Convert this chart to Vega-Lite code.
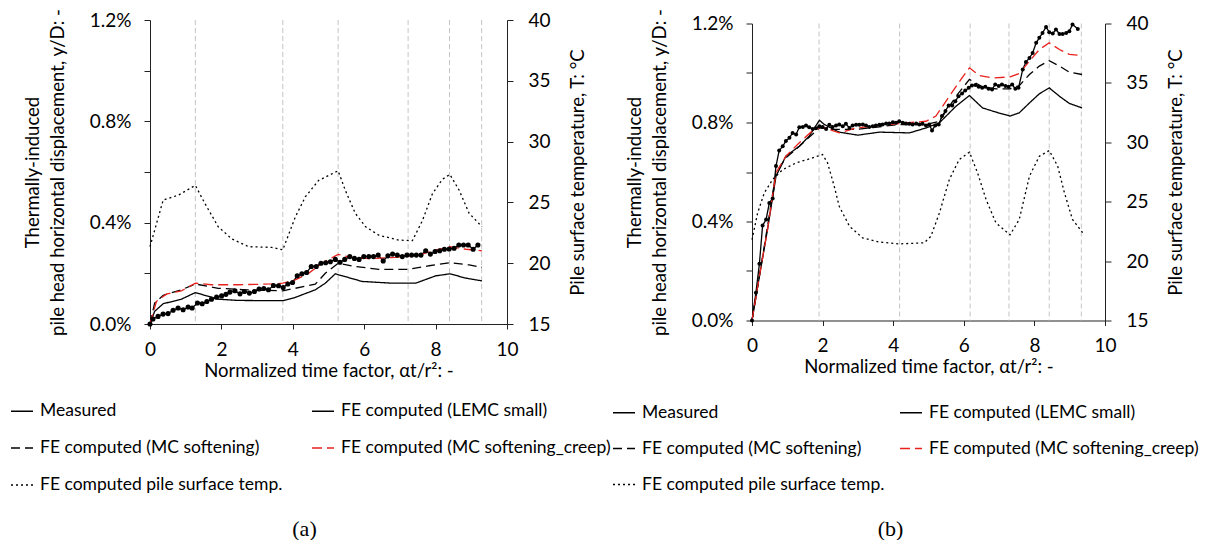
{
  "$schema": "https://vega.github.io/schema/vega-lite/v6.json",
  "background": "white",
  "padding": {"left": 10, "top": 8, "right": 4, "bottom": 0},
  "config": {
    "font": "Lato",
    "view": {"stroke": null},
    "axis": {"domainColor": "#222", "tickColor": "#222", "labelColor": "#000", "titleColor": "#000", "labelFont": "Lato", "titleFont": "Lato", "labelFontSize": 19, "titleFontSize": 18.5, "titleFontWeight": "normal", "grid": false, "tickSize": 6, "domainWidth": 1, "tickWidth": 1}
  },
  "datasets": {
    "va": [{"x": 1.27}, {"x": 3.72}, {"x": 5.27}, {"x": 7.23}, {"x": 8.39}, {"x": 9.29}],
    "vb": [{"x": 1.9}, {"x": 4.18}, {"x": 6.18}, {"x": 7.28}, {"x": 8.42}, {"x": 9.33}],
    "a": [
      {"s": "Measured", "x": 0, "d": 0}, {"s": "Measured", "x": 0.084, "d": 0.02}, {"s": "Measured", "x": 0.225, "d": 0.03}, {"s": "Measured", "x": 0.366, "d": 0.039}, {"s": "Measured", "x": 0.506, "d": 0.041}, {"s": "Measured", "x": 0.647, "d": 0.054}, {"s": "Measured", "x": 0.787, "d": 0.063}, {"s": "Measured", "x": 0.928, "d": 0.056}, {"s": "Measured", "x": 1.068, "d": 0.067}, {"s": "Measured", "x": 1.181, "d": 0.063}, {"s": "Measured", "x": 1.331, "d": 0.083}, {"s": "Measured", "x": 1.462, "d": 0.08}, {"s": "Measured", "x": 1.593, "d": 0.089}, {"s": "Measured", "x": 1.724, "d": 0.098}, {"s": "Measured", "x": 1.865, "d": 0.106}, {"s": "Measured", "x": 2.006, "d": 0.111}, {"s": "Measured", "x": 2.127, "d": 0.117}, {"s": "Measured", "x": 2.24, "d": 0.126}, {"s": "Measured", "x": 2.38, "d": 0.131}, {"s": "Measured", "x": 2.521, "d": 0.119}, {"s": "Measured", "x": 2.643, "d": 0.128}, {"s": "Measured", "x": 2.783, "d": 0.122}, {"s": "Measured", "x": 2.924, "d": 0.128}, {"s": "Measured", "x": 3.055, "d": 0.138}, {"s": "Measured", "x": 3.187, "d": 0.14}, {"s": "Measured", "x": 3.318, "d": 0.135}, {"s": "Measured", "x": 3.458, "d": 0.152}, {"s": "Measured", "x": 3.599, "d": 0.151}, {"s": "Measured", "x": 3.73, "d": 0.144}, {"s": "Measured", "x": 3.861, "d": 0.158}, {"s": "Measured", "x": 3.993, "d": 0.164}, {"s": "Measured", "x": 4.124, "d": 0.19}, {"s": "Measured", "x": 4.255, "d": 0.198}, {"s": "Measured", "x": 4.386, "d": 0.203}, {"s": "Measured", "x": 4.517, "d": 0.227}, {"s": "Measured", "x": 4.658, "d": 0.227}, {"s": "Measured", "x": 4.789, "d": 0.24}, {"s": "Measured", "x": 4.92, "d": 0.242}, {"s": "Measured", "x": 5.052, "d": 0.246}, {"s": "Measured", "x": 5.192, "d": 0.255}, {"s": "Measured", "x": 5.323, "d": 0.244}, {"s": "Measured", "x": 5.455, "d": 0.255}, {"s": "Measured", "x": 5.595, "d": 0.266}, {"s": "Measured", "x": 5.726, "d": 0.259}, {"s": "Measured", "x": 5.857, "d": 0.255}, {"s": "Measured", "x": 5.989, "d": 0.266}, {"s": "Measured", "x": 6.129, "d": 0.266}, {"s": "Measured", "x": 6.26, "d": 0.266}, {"s": "Measured", "x": 6.392, "d": 0.272}, {"s": "Measured", "x": 6.532, "d": 0.249}, {"s": "Measured", "x": 6.664, "d": 0.269}, {"s": "Measured", "x": 6.795, "d": 0.276}, {"s": "Measured", "x": 6.926, "d": 0.272}, {"s": "Measured", "x": 7.067, "d": 0.266}, {"s": "Measured", "x": 7.198, "d": 0.272}, {"s": "Measured", "x": 7.329, "d": 0.272}, {"s": "Measured", "x": 7.46, "d": 0.272}, {"s": "Measured", "x": 7.591, "d": 0.272}, {"s": "Measured", "x": 7.723, "d": 0.289}, {"s": "Measured", "x": 7.854, "d": 0.276}, {"s": "Measured", "x": 7.985, "d": 0.286}, {"s": "Measured", "x": 8.116, "d": 0.289}, {"s": "Measured", "x": 8.247, "d": 0.295}, {"s": "Measured", "x": 8.379, "d": 0.296}, {"s": "Measured", "x": 8.519, "d": 0.299}, {"s": "Measured", "x": 8.65, "d": 0.312}, {"s": "Measured", "x": 8.782, "d": 0.312}, {"s": "Measured", "x": 8.913, "d": 0.312}, {"s": "Measured", "x": 9.053, "d": 0.295}, {"s": "Measured", "x": 9.185, "d": 0.312},
      {"s": "FE computed (LEMC small)", "x": 0, "d": 0}, {"s": "FE computed (LEMC small)", "x": 0.13, "d": 0.05}, {"s": "FE computed (LEMC small)", "x": 0.37, "d": 0.08}, {"s": "FE computed (LEMC small)", "x": 0.88, "d": 0.098}, {"s": "FE computed (LEMC small)", "x": 1.27, "d": 0.124}, {"s": "FE computed (LEMC small)", "x": 1.91, "d": 0.098}, {"s": "FE computed (LEMC small)", "x": 2.47, "d": 0.093}, {"s": "FE computed (LEMC small)", "x": 3.72, "d": 0.092}, {"s": "FE computed (LEMC small)", "x": 4.07, "d": 0.105}, {"s": "FE computed (LEMC small)", "x": 4.63, "d": 0.135}, {"s": "FE computed (LEMC small)", "x": 4.91, "d": 0.161}, {"s": "FE computed (LEMC small)", "x": 5.19, "d": 0.198}, {"s": "FE computed (LEMC small)", "x": 5.47, "d": 0.187}, {"s": "FE computed (LEMC small)", "x": 5.94, "d": 0.168}, {"s": "FE computed (LEMC small)", "x": 6.79, "d": 0.161}, {"s": "FE computed (LEMC small)", "x": 7.44, "d": 0.161}, {"s": "FE computed (LEMC small)", "x": 8.0, "d": 0.19}, {"s": "FE computed (LEMC small)", "x": 8.4, "d": 0.198}, {"s": "FE computed (LEMC small)", "x": 8.85, "d": 0.181}, {"s": "FE computed (LEMC small)", "x": 9.3, "d": 0.17},
      {"s": "FE computed (MC softening)", "x": 0, "d": 0}, {"s": "FE computed (MC softening)", "x": 0.13, "d": 0.083}, {"s": "FE computed (MC softening)", "x": 0.37, "d": 0.113}, {"s": "FE computed (MC softening)", "x": 0.88, "d": 0.135}, {"s": "FE computed (MC softening)", "x": 1.27, "d": 0.158}, {"s": "FE computed (MC softening)", "x": 1.91, "d": 0.141}, {"s": "FE computed (MC softening)", "x": 2.66, "d": 0.135}, {"s": "FE computed (MC softening)", "x": 3.72, "d": 0.131}, {"s": "FE computed (MC softening)", "x": 4.63, "d": 0.157}, {"s": "FE computed (MC softening)", "x": 4.91, "d": 0.2}, {"s": "FE computed (MC softening)", "x": 5.27, "d": 0.24}, {"s": "FE computed (MC softening)", "x": 5.75, "d": 0.227}, {"s": "FE computed (MC softening)", "x": 6.41, "d": 0.216}, {"s": "FE computed (MC softening)", "x": 7.25, "d": 0.216}, {"s": "FE computed (MC softening)", "x": 7.82, "d": 0.23}, {"s": "FE computed (MC softening)", "x": 8.4, "d": 0.242}, {"s": "FE computed (MC softening)", "x": 8.94, "d": 0.233}, {"s": "FE computed (MC softening)", "x": 9.3, "d": 0.224},
      {"s": "FE computed (MC softening_creep)", "x": 0, "d": 0}, {"s": "FE computed (MC softening_creep)", "x": 0.18, "d": 0.089}, {"s": "FE computed (MC softening_creep)", "x": 0.46, "d": 0.118}, {"s": "FE computed (MC softening_creep)", "x": 0.88, "d": 0.131}, {"s": "FE computed (MC softening_creep)", "x": 1.27, "d": 0.161}, {"s": "FE computed (MC softening_creep)", "x": 1.72, "d": 0.155}, {"s": "FE computed (MC softening_creep)", "x": 2.47, "d": 0.155}, {"s": "FE computed (MC softening_creep)", "x": 3.41, "d": 0.158}, {"s": "FE computed (MC softening_creep)", "x": 3.72, "d": 0.161}, {"s": "FE computed (MC softening_creep)", "x": 4.07, "d": 0.174}, {"s": "FE computed (MC softening_creep)", "x": 4.44, "d": 0.2}, {"s": "FE computed (MC softening_creep)", "x": 4.82, "d": 0.24}, {"s": "FE computed (MC softening_creep)", "x": 5.27, "d": 0.275}, {"s": "FE computed (MC softening_creep)", "x": 5.66, "d": 0.262}, {"s": "FE computed (MC softening_creep)", "x": 6.22, "d": 0.258}, {"s": "FE computed (MC softening_creep)", "x": 6.88, "d": 0.263}, {"s": "FE computed (MC softening_creep)", "x": 7.54, "d": 0.272}, {"s": "FE computed (MC softening_creep)", "x": 7.91, "d": 0.289}, {"s": "FE computed (MC softening_creep)", "x": 8.4, "d": 0.305}, {"s": "FE computed (MC softening_creep)", "x": 8.85, "d": 0.295}, {"s": "FE computed (MC softening_creep)", "x": 9.3, "d": 0.289},
      {"s": "FE computed pile surface temp.", "x": 0, "T": 21.36}, {"s": "FE computed pile surface temp.", "x": 0.37, "T": 25.2}, {"s": "FE computed pile surface temp.", "x": 0.8, "T": 25.6}, {"s": "FE computed pile surface temp.", "x": 1.27, "T": 26.4}, {"s": "FE computed pile surface temp.", "x": 1.54, "T": 24.9}, {"s": "FE computed pile surface temp.", "x": 1.91, "T": 23.0}, {"s": "FE computed pile surface temp.", "x": 2.29, "T": 22.0}, {"s": "FE computed pile surface temp.", "x": 2.76, "T": 21.36}, {"s": "FE computed pile surface temp.", "x": 3.41, "T": 21.3}, {"s": "FE computed pile surface temp.", "x": 3.72, "T": 21.1}, {"s": "FE computed pile surface temp.", "x": 4.07, "T": 23.8}, {"s": "FE computed pile surface temp.", "x": 4.35, "T": 25.45}, {"s": "FE computed pile surface temp.", "x": 4.72, "T": 26.8}, {"s": "FE computed pile surface temp.", "x": 5.27, "T": 27.6}, {"s": "FE computed pile surface temp.", "x": 5.47, "T": 26.0}, {"s": "FE computed pile surface temp.", "x": 5.75, "T": 24.1}, {"s": "FE computed pile surface temp.", "x": 6.04, "T": 23.0}, {"s": "FE computed pile surface temp.", "x": 6.41, "T": 22.3}, {"s": "FE computed pile surface temp.", "x": 6.97, "T": 21.9}, {"s": "FE computed pile surface temp.", "x": 7.35, "T": 21.85}, {"s": "FE computed pile surface temp.", "x": 7.63, "T": 23.5}, {"s": "FE computed pile surface temp.", "x": 7.91, "T": 25.7}, {"s": "FE computed pile surface temp.", "x": 8.19, "T": 26.9}, {"s": "FE computed pile surface temp.", "x": 8.4, "T": 27.3}, {"s": "FE computed pile surface temp.", "x": 8.66, "T": 26.0}, {"s": "FE computed pile surface temp.", "x": 8.94, "T": 24.1}, {"s": "FE computed pile surface temp.", "x": 9.3, "T": 23.0}
    ],
    "b": [
      {"s": "Measured", "x": 0, "d": 0}, {"s": "Measured", "x": 0.11, "d": 0.112}, {"s": "Measured", "x": 0.21, "d": 0.229}, {"s": "Measured", "x": 0.3, "d": 0.384}, {"s": "Measured", "x": 0.4, "d": 0.408}, {"s": "Measured", "x": 0.49, "d": 0.475}, {"s": "Measured", "x": 0.585, "d": 0.493}, {"s": "Measured", "x": 0.68, "d": 0.624}, {"s": "Measured", "x": 0.77, "d": 0.687}, {"s": "Measured", "x": 0.87, "d": 0.704}, {"s": "Measured", "x": 0.96, "d": 0.725}, {"s": "Measured", "x": 1.06, "d": 0.738}, {"s": "Measured", "x": 1.15, "d": 0.758}, {"s": "Measured", "x": 1.25, "d": 0.752}, {"s": "Measured", "x": 1.34, "d": 0.781}, {"s": "Measured", "x": 1.44, "d": 0.782}, {"s": "Measured", "x": 1.53, "d": 0.788}, {"s": "Measured", "x": 1.62, "d": 0.781}, {"s": "Measured", "x": 1.72, "d": 0.774}, {"s": "Measured", "x": 1.81, "d": 0.777}, {"s": "Measured", "x": 1.91, "d": 0.785}, {"s": "Measured", "x": 2.0, "d": 0.782}, {"s": "Measured", "x": 2.1, "d": 0.774}, {"s": "Measured", "x": 2.19, "d": 0.791}, {"s": "Measured", "x": 2.28, "d": 0.782}, {"s": "Measured", "x": 2.38, "d": 0.788}, {"s": "Measured", "x": 2.47, "d": 0.792}, {"s": "Measured", "x": 2.57, "d": 0.785}, {"s": "Measured", "x": 2.66, "d": 0.795}, {"s": "Measured", "x": 2.76, "d": 0.778}, {"s": "Measured", "x": 2.85, "d": 0.788}, {"s": "Measured", "x": 2.95, "d": 0.791}, {"s": "Measured", "x": 3.04, "d": 0.791}, {"s": "Measured", "x": 3.14, "d": 0.792}, {"s": "Measured", "x": 3.23, "d": 0.788}, {"s": "Measured", "x": 3.32, "d": 0.782}, {"s": "Measured", "x": 3.42, "d": 0.785}, {"s": "Measured", "x": 3.51, "d": 0.788}, {"s": "Measured", "x": 3.61, "d": 0.791}, {"s": "Measured", "x": 3.7, "d": 0.792}, {"s": "Measured", "x": 3.8, "d": 0.796}, {"s": "Measured", "x": 3.89, "d": 0.796}, {"s": "Measured", "x": 3.99, "d": 0.801}, {"s": "Measured", "x": 4.08, "d": 0.799}, {"s": "Measured", "x": 4.17, "d": 0.805}, {"s": "Measured", "x": 4.27, "d": 0.799}, {"s": "Measured", "x": 4.36, "d": 0.796}, {"s": "Measured", "x": 4.46, "d": 0.795}, {"s": "Measured", "x": 4.55, "d": 0.792}, {"s": "Measured", "x": 4.65, "d": 0.796}, {"s": "Measured", "x": 4.74, "d": 0.792}, {"s": "Measured", "x": 4.83, "d": 0.795}, {"s": "Measured", "x": 4.93, "d": 0.788}, {"s": "Measured", "x": 5.02, "d": 0.792}, {"s": "Measured", "x": 5.1, "d": 0.768}, {"s": "Measured", "x": 5.19, "d": 0.788}, {"s": "Measured", "x": 5.29, "d": 0.792}, {"s": "Measured", "x": 5.38, "d": 0.826}, {"s": "Measured", "x": 5.48, "d": 0.846}, {"s": "Measured", "x": 5.57, "d": 0.869}, {"s": "Measured", "x": 5.67, "d": 0.869}, {"s": "Measured", "x": 5.76, "d": 0.886}, {"s": "Measured", "x": 5.85, "d": 0.906}, {"s": "Measured", "x": 5.95, "d": 0.917}, {"s": "Measured", "x": 6.04, "d": 0.929}, {"s": "Measured", "x": 6.14, "d": 0.94}, {"s": "Measured", "x": 6.23, "d": 0.949}, {"s": "Measured", "x": 6.33, "d": 0.952}, {"s": "Measured", "x": 6.42, "d": 0.944}, {"s": "Measured", "x": 6.52, "d": 0.94}, {"s": "Measured", "x": 6.61, "d": 0.944}, {"s": "Measured", "x": 6.7, "d": 0.936}, {"s": "Measured", "x": 6.8, "d": 0.933}, {"s": "Measured", "x": 6.89, "d": 0.954}, {"s": "Measured", "x": 6.99, "d": 0.947}, {"s": "Measured", "x": 7.08, "d": 0.954}, {"s": "Measured", "x": 7.18, "d": 0.947}, {"s": "Measured", "x": 7.27, "d": 0.944}, {"s": "Measured", "x": 7.37, "d": 0.954}, {"s": "Measured", "x": 7.46, "d": 0.936}, {"s": "Measured", "x": 7.55, "d": 0.94}, {"s": "Measured", "x": 7.67, "d": 1.014}, {"s": "Measured", "x": 7.76, "d": 1.044}, {"s": "Measured", "x": 7.86, "d": 1.061}, {"s": "Measured", "x": 7.95, "d": 1.081}, {"s": "Measured", "x": 8.05, "d": 1.122}, {"s": "Measured", "x": 8.14, "d": 1.142}, {"s": "Measured", "x": 8.23, "d": 1.162}, {"s": "Measured", "x": 8.33, "d": 1.186}, {"s": "Measured", "x": 8.42, "d": 1.165}, {"s": "Measured", "x": 8.52, "d": 1.16}, {"s": "Measured", "x": 8.61, "d": 1.176}, {"s": "Measured", "x": 8.71, "d": 1.158}, {"s": "Measured", "x": 8.8, "d": 1.158}, {"s": "Measured", "x": 8.9, "d": 1.162}, {"s": "Measured", "x": 8.99, "d": 1.169}, {"s": "Measured", "x": 9.08, "d": 1.196}, {"s": "Measured", "x": 9.23, "d": 1.178},
      {"s": "FE computed (LEMC small)", "x": 0, "d": 0}, {"s": "FE computed (LEMC small)", "x": 0.21, "d": 0.179}, {"s": "FE computed (LEMC small)", "x": 0.44, "d": 0.368}, {"s": "FE computed (LEMC small)", "x": 0.68, "d": 0.583}, {"s": "FE computed (LEMC small)", "x": 0.96, "d": 0.664}, {"s": "FE computed (LEMC small)", "x": 1.34, "d": 0.704}, {"s": "FE computed (LEMC small)", "x": 1.62, "d": 0.745}, {"s": "FE computed (LEMC small)", "x": 1.91, "d": 0.809}, {"s": "FE computed (LEMC small)", "x": 2.05, "d": 0.792}, {"s": "FE computed (LEMC small)", "x": 2.47, "d": 0.761}, {"s": "FE computed (LEMC small)", "x": 3.0, "d": 0.749}, {"s": "FE computed (LEMC small)", "x": 3.61, "d": 0.761}, {"s": "FE computed (LEMC small)", "x": 4.46, "d": 0.758}, {"s": "FE computed (LEMC small)", "x": 4.93, "d": 0.778}, {"s": "FE computed (LEMC small)", "x": 5.31, "d": 0.799}, {"s": "FE computed (LEMC small)", "x": 5.78, "d": 0.866}, {"s": "FE computed (LEMC small)", "x": 6.16, "d": 0.909}, {"s": "FE computed (LEMC small)", "x": 6.53, "d": 0.859}, {"s": "FE computed (LEMC small)", "x": 6.91, "d": 0.842}, {"s": "FE computed (LEMC small)", "x": 7.31, "d": 0.826}, {"s": "FE computed (LEMC small)", "x": 7.57, "d": 0.839}, {"s": "FE computed (LEMC small)", "x": 7.86, "d": 0.879}, {"s": "FE computed (LEMC small)", "x": 8.14, "d": 0.916}, {"s": "FE computed (LEMC small)", "x": 8.42, "d": 0.94}, {"s": "FE computed (LEMC small)", "x": 8.71, "d": 0.906}, {"s": "FE computed (LEMC small)", "x": 8.99, "d": 0.877}, {"s": "FE computed (LEMC small)", "x": 9.35, "d": 0.859},
      {"s": "FE computed (MC softening)", "x": 0, "d": 0}, {"s": "FE computed (MC softening)", "x": 0.21, "d": 0.179}, {"s": "FE computed (MC softening)", "x": 0.44, "d": 0.381}, {"s": "FE computed (MC softening)", "x": 0.68, "d": 0.597}, {"s": "FE computed (MC softening)", "x": 0.96, "d": 0.657}, {"s": "FE computed (MC softening)", "x": 1.34, "d": 0.704}, {"s": "FE computed (MC softening)", "x": 1.91, "d": 0.778}, {"s": "FE computed (MC softening)", "x": 2.28, "d": 0.772}, {"s": "FE computed (MC softening)", "x": 2.95, "d": 0.772}, {"s": "FE computed (MC softening)", "x": 4.17, "d": 0.792}, {"s": "FE computed (MC softening)", "x": 4.93, "d": 0.792}, {"s": "FE computed (MC softening)", "x": 5.31, "d": 0.805}, {"s": "FE computed (MC softening)", "x": 5.78, "d": 0.906}, {"s": "FE computed (MC softening)", "x": 6.16, "d": 0.974}, {"s": "FE computed (MC softening)", "x": 6.53, "d": 0.944}, {"s": "FE computed (MC softening)", "x": 6.91, "d": 0.936}, {"s": "FE computed (MC softening)", "x": 7.31, "d": 0.936}, {"s": "FE computed (MC softening)", "x": 7.57, "d": 0.949}, {"s": "FE computed (MC softening)", "x": 7.86, "d": 0.994}, {"s": "FE computed (MC softening)", "x": 8.14, "d": 1.028}, {"s": "FE computed (MC softening)", "x": 8.42, "d": 1.05}, {"s": "FE computed (MC softening)", "x": 8.71, "d": 1.028}, {"s": "FE computed (MC softening)", "x": 8.99, "d": 1.003}, {"s": "FE computed (MC softening)", "x": 9.35, "d": 0.994},
      {"s": "FE computed (MC softening_creep)", "x": 0, "d": 0}, {"s": "FE computed (MC softening_creep)", "x": 0.21, "d": 0.179}, {"s": "FE computed (MC softening_creep)", "x": 0.44, "d": 0.368}, {"s": "FE computed (MC softening_creep)", "x": 0.68, "d": 0.597}, {"s": "FE computed (MC softening_creep)", "x": 0.96, "d": 0.664}, {"s": "FE computed (MC softening_creep)", "x": 1.34, "d": 0.718}, {"s": "FE computed (MC softening_creep)", "x": 1.67, "d": 0.761}, {"s": "FE computed (MC softening_creep)", "x": 1.95, "d": 0.782}, {"s": "FE computed (MC softening_creep)", "x": 2.19, "d": 0.772}, {"s": "FE computed (MC softening_creep)", "x": 2.47, "d": 0.758}, {"s": "FE computed (MC softening_creep)", "x": 2.95, "d": 0.778}, {"s": "FE computed (MC softening_creep)", "x": 3.61, "d": 0.788}, {"s": "FE computed (MC softening_creep)", "x": 4.17, "d": 0.796}, {"s": "FE computed (MC softening_creep)", "x": 4.93, "d": 0.805}, {"s": "FE computed (MC softening_creep)", "x": 5.21, "d": 0.826}, {"s": "FE computed (MC softening_creep)", "x": 5.59, "d": 0.906}, {"s": "FE computed (MC softening_creep)", "x": 5.92, "d": 0.974}, {"s": "FE computed (MC softening_creep)", "x": 6.16, "d": 1.021}, {"s": "FE computed (MC softening_creep)", "x": 6.44, "d": 0.99}, {"s": "FE computed (MC softening_creep)", "x": 6.82, "d": 0.98}, {"s": "FE computed (MC softening_creep)", "x": 7.31, "d": 0.984}, {"s": "FE computed (MC softening_creep)", "x": 7.57, "d": 0.998}, {"s": "FE computed (MC softening_creep)", "x": 7.86, "d": 1.048}, {"s": "FE computed (MC softening_creep)", "x": 8.14, "d": 1.095}, {"s": "FE computed (MC softening_creep)", "x": 8.42, "d": 1.122}, {"s": "FE computed (MC softening_creep)", "x": 8.71, "d": 1.095}, {"s": "FE computed (MC softening_creep)", "x": 8.99, "d": 1.075}, {"s": "FE computed (MC softening_creep)", "x": 9.35, "d": 1.071},
      {"s": "FE computed pile surface temp.", "x": 0, "T": 21.8}, {"s": "FE computed pile surface temp.", "x": 0.16, "T": 24.06}, {"s": "FE computed pile surface temp.", "x": 0.35, "T": 25.75}, {"s": "FE computed pile surface temp.", "x": 0.585, "T": 26.87}, {"s": "FE computed pile surface temp.", "x": 0.87, "T": 27.7}, {"s": "FE computed pile surface temp.", "x": 1.25, "T": 28.27}, {"s": "FE computed pile surface temp.", "x": 1.62, "T": 28.6}, {"s": "FE computed pile surface temp.", "x": 2.0, "T": 28.97}, {"s": "FE computed pile surface temp.", "x": 2.14, "T": 28.27}, {"s": "FE computed pile surface temp.", "x": 2.33, "T": 26.3}, {"s": "FE computed pile surface temp.", "x": 2.47, "T": 24.62}, {"s": "FE computed pile surface temp.", "x": 2.76, "T": 22.94}, {"s": "FE computed pile surface temp.", "x": 3.13, "T": 21.96}, {"s": "FE computed pile surface temp.", "x": 3.61, "T": 21.6}, {"s": "FE computed pile surface temp.", "x": 4.17, "T": 21.45}, {"s": "FE computed pile surface temp.", "x": 4.88, "T": 21.54}, {"s": "FE computed pile surface temp.", "x": 5.07, "T": 22.1}, {"s": "FE computed pile surface temp.", "x": 5.31, "T": 24.06}, {"s": "FE computed pile surface temp.", "x": 5.59, "T": 26.87}, {"s": "FE computed pile surface temp.", "x": 5.87, "T": 28.55}, {"s": "FE computed pile surface temp.", "x": 6.16, "T": 29.17}, {"s": "FE computed pile surface temp.", "x": 6.39, "T": 27.43}, {"s": "FE computed pile surface temp.", "x": 6.63, "T": 25.19}, {"s": "FE computed pile surface temp.", "x": 6.91, "T": 23.22}, {"s": "FE computed pile surface temp.", "x": 7.31, "T": 22.21}, {"s": "FE computed pile surface temp.", "x": 7.57, "T": 23.5}, {"s": "FE computed pile surface temp.", "x": 7.86, "T": 27.15}, {"s": "FE computed pile surface temp.", "x": 8.14, "T": 28.83}, {"s": "FE computed pile surface temp.", "x": 8.42, "T": 29.31}, {"s": "FE computed pile surface temp.", "x": 8.66, "T": 27.99}, {"s": "FE computed pile surface temp.", "x": 8.85, "T": 25.75}, {"s": "FE computed pile surface temp.", "x": 9.08, "T": 23.5}, {"s": "FE computed pile surface temp.", "x": 9.37, "T": 22.38}
    ]
  },
  "bounds": "flush",
  "center": true,
  "spacing": 245,
  "resolve": {"scale": {"color": "independent", "strokeDash": "independent", "strokeWidth": "independent"}, "legend": {"color": "independent", "strokeDash": "independent", "strokeWidth": "independent"}},
  "hconcat": [
    {
      "width": 357, "height": 304,
      "title": {"text": "(a)", "orient": "bottom", "anchor": "middle", "dx": -24, "offset": 25, "font": "Liberation Serif", "fontSize": 22, "fontWeight": "normal", "color": "#000"},
      "data": {"name": "a"},
      "resolve": {"scale": {"y": "independent"}},
      "layer": [
        {
          "data": {"name": "va"},
          "mark": {"type": "rule", "stroke": "#c4c4c4", "strokeDash": [5, 3], "strokeWidth": 1},
          "encoding": {"x": {"field": "x", "type": "quantitative", "scale": {"domain": [0, 10]}, "axis": {"title": "Normalized time factor, αt/r²: -", "values": [0, 1, 2, 3, 4, 5, 6, 7, 8, 9, 10], "labelExpr": "datum.value % 2 === 0 ? datum.label : ''", "tickSize": 5, "labelPadding": 11, "titlePadding": 2, "labelFlush": false}}}
        },
        {
          "layer": [
            {
              "transform": [{"filter": "datum.s !== 'FE computed pile surface temp.'"}],
              "mark": {"type": "line"},
              "encoding": {
                "x": {"field": "x", "type": "quantitative", "scale": {"domain": [0, 10]}, "axis": {"title": "Normalized time factor, αt/r²: -", "values": [0, 1, 2, 3, 4, 5, 6, 7, 8, 9, 10], "labelExpr": "datum.value % 2 === 0 ? datum.label : ''", "tickSize": 5, "labelPadding": 11, "titlePadding": 2, "labelFlush": false}},
                "y": {"field": "d", "type": "quantitative", "scale": {"domain": [0, 1.2]}, "axis": {"title": ["Thermally-induced", "pile head horizontal displacement, y/D: -"], "values": [0, 0.2, 0.4, 0.6, 0.8, 1.0, 1.2], "labelExpr": "round(datum.value*10) % 4 === 0 ? format(datum.value, '.1f') + '%' : ''", "labelPadding": 13, "titlePadding": 22, "titleLineHeight": 25, "labelFlush": false}},
                "color": {"field": "s", "type": "nominal", "scale": {"domain": ["Measured", "FE computed (MC softening)", "FE computed pile surface temp.", "FE computed (LEMC small)", "FE computed (MC softening_creep)"], "range": ["#000", "#000", "#000", "#000", "#e8211c"]}, "legend": {"title": null, "orient": "none", "legendX": -140, "legendY": 379, "columns": 2, "symbolType": "stroke", "symbolSize": 484, "labelFont": "Lato", "labelFontSize": 17.5, "labelColor": "#000", "labelLimit": 400, "columnPadding": 26, "rowPadding": 16, "labelOffset": 6}},
                "strokeDash": {"field": "s", "type": "nominal", "scale": {"domain": ["Measured", "FE computed (MC softening)", "FE computed pile surface temp.", "FE computed (LEMC small)", "FE computed (MC softening_creep)"], "range": [[1, 0], [9, 5], [2, 3], [1, 0], [10, 5]]}, "legend": {"title": null, "orient": "none", "legendX": -140, "legendY": 379, "columns": 2, "symbolType": "stroke", "symbolSize": 484, "labelFont": "Lato", "labelFontSize": 17.5, "labelColor": "#000", "labelLimit": 400, "columnPadding": 26, "rowPadding": 16, "labelOffset": 6}},
                "strokeWidth": {"field": "s", "type": "nominal", "scale": {"domain": ["Measured", "FE computed (MC softening)", "FE computed pile surface temp.", "FE computed (LEMC small)", "FE computed (MC softening_creep)"], "range": [1.3, 1.3, 1.8, 1.3, 2.4]}, "legend": {"title": null, "orient": "none", "legendX": -140, "legendY": 379, "columns": 2, "symbolType": "stroke", "symbolSize": 484, "labelFont": "Lato", "labelFontSize": 17.5, "labelColor": "#000", "labelLimit": 400, "columnPadding": 26, "rowPadding": 16, "labelOffset": 6}}
              }
            },
            {
              "transform": [{"filter": "datum.s === 'Measured'"}],
              "mark": {"type": "point", "filled": true, "color": "#000", "opacity": 1, "size": 26},
              "encoding": {
                "x": {"field": "x", "type": "quantitative"},
                "y": {"field": "d", "type": "quantitative"}
              }
            }
          ]
        },
        {
          "transform": [{"filter": "datum.s === 'FE computed pile surface temp.'"}],
          "mark": {"type": "line"},
          "encoding": {
            "x": {"field": "x", "type": "quantitative"},
            "y": {"field": "T", "type": "quantitative", "scale": {"domain": [15, 40]}, "axis": {"orient": "right", "title": "Pile surface temperature, T: °C", "values": [15, 20, 25, 30, 35, 40], "labelPadding": 15, "titlePadding": 18, "titleAngle": 270, "titleBaseline": "top", "labelFlush": false}},
            "color": {"field": "s", "type": "nominal"},
            "strokeDash": {"field": "s", "type": "nominal"},
            "strokeWidth": {"field": "s", "type": "nominal"}
          }
        }
      ]
    },
    {
      "width": 353, "height": 297,
      "title": {"text": "(b)", "orient": "bottom", "anchor": "middle", "dx": -38, "offset": 25, "font": "Liberation Serif", "fontSize": 22, "fontWeight": "normal", "color": "#000"},
      "data": {"name": "b"},
      "resolve": {"scale": {"y": "independent"}},
      "layer": [
        {
          "data": {"name": "vb"},
          "mark": {"type": "rule", "stroke": "#c4c4c4", "strokeDash": [5, 3], "strokeWidth": 1},
          "encoding": {"x": {"field": "x", "type": "quantitative", "scale": {"domain": [0, 10]}, "axis": {"title": "Normalized time factor, αt/r²: -", "values": [0, 1, 2, 3, 4, 5, 6, 7, 8, 9, 10], "labelExpr": "datum.value % 2 === 0 ? datum.label : ''", "tickSize": 5, "labelPadding": 11, "titlePadding": 2, "labelFlush": false}}}
        },
        {
          "layer": [
            {
              "transform": [{"filter": "datum.s !== 'FE computed pile surface temp.'"}],
              "mark": {"type": "line"},
              "encoding": {
                "x": {"field": "x", "type": "quantitative", "scale": {"domain": [0, 10]}, "axis": {"title": "Normalized time factor, αt/r²: -", "values": [0, 1, 2, 3, 4, 5, 6, 7, 8, 9, 10], "labelExpr": "datum.value % 2 === 0 ? datum.label : ''", "tickSize": 5, "labelPadding": 11, "titlePadding": 2, "labelFlush": false}},
                "y": {"field": "d", "type": "quantitative", "scale": {"domain": [0, 1.2]}, "axis": {"title": ["Thermally-induced", "pile head horizontal displacement, y/D: -"], "values": [0, 0.2, 0.4, 0.6, 0.8, 1.0, 1.2], "labelExpr": "round(datum.value*10) % 4 === 0 ? format(datum.value, '.1f') + '%' : ''", "labelPadding": 13, "titlePadding": 22, "titleLineHeight": 25, "labelFlush": false}},
                "color": {"field": "s", "type": "nominal", "scale": {"domain": ["Measured", "FE computed (MC softening)", "FE computed pile surface temp.", "FE computed (LEMC small)", "FE computed (MC softening_creep)"], "range": ["#000", "#000", "#000", "#000", "#e8211c"]}, "legend": {"title": null, "orient": "none", "legendX": -140, "legendY": 377, "columns": 2, "symbolType": "stroke", "symbolSize": 484, "labelFont": "Lato", "labelFontSize": 17.5, "labelColor": "#000", "labelLimit": 400, "columnPadding": 12, "rowPadding": 15, "labelOffset": 6}},
                "strokeDash": {"field": "s", "type": "nominal", "scale": {"domain": ["Measured", "FE computed (MC softening)", "FE computed pile surface temp.", "FE computed (LEMC small)", "FE computed (MC softening_creep)"], "range": [[1, 0], [9, 5], [2, 3], [1, 0], [10, 5]]}, "legend": {"title": null, "orient": "none", "legendX": -140, "legendY": 377, "columns": 2, "symbolType": "stroke", "symbolSize": 484, "labelFont": "Lato", "labelFontSize": 17.5, "labelColor": "#000", "labelLimit": 400, "columnPadding": 12, "rowPadding": 15, "labelOffset": 6}},
                "strokeWidth": {"field": "s", "type": "nominal", "scale": {"domain": ["Measured", "FE computed (MC softening)", "FE computed pile surface temp.", "FE computed (LEMC small)", "FE computed (MC softening_creep)"], "range": [1.3, 1.3, 1.8, 1.3, 2.4]}, "legend": {"title": null, "orient": "none", "legendX": -140, "legendY": 377, "columns": 2, "symbolType": "stroke", "symbolSize": 484, "labelFont": "Lato", "labelFontSize": 17.5, "labelColor": "#000", "labelLimit": 400, "columnPadding": 12, "rowPadding": 15, "labelOffset": 6}}
              }
            },
            {
              "transform": [{"filter": "datum.s === 'Measured'"}],
              "mark": {"type": "point", "filled": true, "color": "#000", "opacity": 1, "size": 16},
              "encoding": {
                "x": {"field": "x", "type": "quantitative"},
                "y": {"field": "d", "type": "quantitative"}
              }
            }
          ]
        },
        {
          "transform": [{"filter": "datum.s === 'FE computed pile surface temp.'"}],
          "mark": {"type": "line"},
          "encoding": {
            "x": {"field": "x", "type": "quantitative"},
            "y": {"field": "T", "type": "quantitative", "scale": {"domain": [15, 40]}, "axis": {"orient": "right", "title": "Pile surface temperature, T: °C", "values": [15, 20, 25, 30, 35, 40], "labelPadding": 15, "titlePadding": 18, "titleAngle": 270, "titleBaseline": "top", "labelFlush": false}},
            "color": {"field": "s", "type": "nominal"},
            "strokeDash": {"field": "s", "type": "nominal"},
            "strokeWidth": {"field": "s", "type": "nominal"}
          }
        }
      ]
    }
  ]
}
